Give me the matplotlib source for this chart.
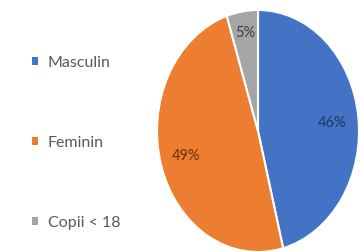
import matplotlib
matplotlib.use("Agg")
import matplotlib.pyplot as plt
import numpy as np

categories = ["Masculin", "Feminin", "Copii < 18"]
values = [46, 49, 5]
colors = ["#4472C4", "#ED7D31", "#A5A5A5"]
label_colors = ["#1F3864", "#6B2E0A", "#404040"]

plt.rcParams['font.family'] = ['Lato', 'DejaVu Sans']

fig = plt.figure(figsize=(3.6, 2.52), dpi=100)
ax = fig.add_axes([157/360, 0.0/252, 202/360, 242/252])
wedges, texts, autotexts = ax.pie(values, colors=colors, startangle=90, counterclock=False,
                                  autopct='%1.0f%%', pctdistance=0.74,
                                  wedgeprops=dict(edgecolor='white', linewidth=1.5),
                                  textprops=dict(fontsize=10.5))
ax.set_aspect('auto')
ax.set_xlim(-1, 1)
ax.set_ylim(-1, 1)
for i, (w, t) in enumerate(zip(wedges, autotexts)):
    t.set_color(label_colors[i])
    ang = np.deg2rad((w.theta1 + w.theta2) / 2)
    r = 0.82 if values[i] < 10 else 0.74
    t.set_position((r * np.cos(ang), r * np.sin(ang) - (0.03 if i == 0 else 0)))

leg = fig.legend(wedges, categories, loc='upper left', bbox_to_anchor=(32/360, 1 - 56/252),
                 frameon=False, fontsize=11.5, labelspacing=4.12, handlelength=0.4,
                 handleheight=0.4, handletextpad=0.6, borderaxespad=0, borderpad=0)
for t in leg.get_texts():
    t.set_color("#595959")
for h in leg.legend_handles:
    h.set_edgecolor('none')

fig.savefig("out.png", dpi=100)
